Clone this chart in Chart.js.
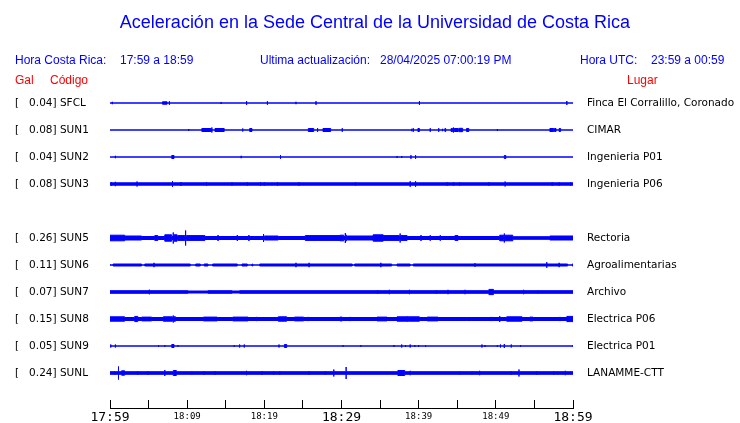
<!DOCTYPE html>
<html>
<head>
<meta charset="utf-8">
<script src="https://cdn.jsdelivr.net/npm/chart.js@4/dist/chart.umd.min.js"></script>
<style>
body { margin: 0; background: #fff; }
#wrap { position: relative; width: 740px; height: 423px; font-family: 'Liberation Sans', Arial, sans-serif; }
#wrap canvas { position: absolute; left: 0; top: 0; }
.t { position: absolute; white-space: pre; font-size: 12px; line-height: 14px; color: #0000ff; }
.red { color: #ff0000; }
#title { left: 0; width: 750px; top: 11px; text-align: center; font-size: 18px; line-height: 22px; }
</style>
</head>
<body>
<div id="wrap">
  <canvas id="acelChart" width="740" height="423"></canvas>
  <div class="t" id="title">Aceleración en la Sede Central de la Universidad de Costa Rica</div>
  <div class="t" style="left:15px; top:53px;">Hora Costa Rica:</div>
  <div class="t" style="left:120px; top:53px;">17:59 a 18:59</div>
  <div class="t" style="left:260px; top:53px;">Ultima actualización:</div>
  <div class="t" style="left:380px; top:53px;">28/04/2025 07:00:19 PM</div>
  <div class="t" style="left:580px; top:53px;">Hora UTC:</div>
  <div class="t" style="left:651px; top:53px;">23:59 a 00:59</div>
  <div class="t red" style="left:15px; top:73px;">Gal</div>
  <div class="t red" style="left:50px; top:73px;">Código</div>
  <div class="t red" style="left:627px; top:73px;">Lugar</div>
</div>
<script>
// estaciones (fila vacia = SUN4 sin datos)
const codes = ['SFCL', 'SUN1', 'SUN2', 'SUN3', '', 'SUN5', 'SUN6', 'SUN7', 'SUN8', 'SUN9', 'SUNL'];
const peakGal = ['0.04', '0.08', '0.04', '0.08', '', '0.26', '0.11', '0.07', '0.15', '0.05', '0.24'];
const places = ['Finca El Corralillo, Coronado', 'CIMAR', 'Ingenieria P01', 'Ingenieria P06', '',
  'Rectoria', 'Agroalimentarias', 'Archivo', 'Electrica P06', 'Electrica P01', 'LANAMME-CTT'];

// eje de tiempo: minutos desde 17:59
const tickMinutes = [0, 5, 10, 15, 20, 25, 30, 35, 40, 45, 50, 55, 60];
const tickLabels = ['17:59', '', '18:09', '', '18:19', '', '18:29', '', '18:39', '', '18:49', '', '18:59'];
const majorLabels = ['17:59', '18:29', '18:59'];

// amplitud base de cada traza
const baseAmp = [0, 0, 0, 1.2, 0, 1.5, 1.0, 1.3, 1.5, 0, 1.3];

// eventos: [minuto, amplitud] = pico, [inicio, fin, amplitud] = tramo
const sfclEvents = [[0.3, 1.2], [6.8, 7.4, 1.2], [7.7, 1.8], [14.4, 1], [17.7, 2], [20.4, 1.8],
  [24.1, 1.2], [26.7, 1.8], [40.1, 2], [59.2, 2]];
const sun1Events = [[10.2, 1], [11.9, 13.1, 1.5], [13.2, 2.5], [13.6, 14.8, 1.5], [17.2, 1.5],
  [18.1, 18.4, 1.5], [25.7, 26.4, 1.5], [26.9, 1.8], [27.6, 28.6, 1.5], [30.1, 1.8], [39.1, 1.2],
  [39.3, 1.8], [39.9, 40.1, 1.5], [41.5, 1.8], [42.6, 1.8], [43.1, 1.2], [43.4, 43.5, 1.5],
  [44.2, 44.4, 1.5], [44.5, 2.5], [44.6, 45.1, 1.5], [45.2, 45.7, 1.7], [46.2, 46.5, 1.5],
  [50.2, 1], [57.0, 57.5, 1.5], [57.6, 57.8, 1.5], [58.2, 58.4, 1.5]];
const sun2Events = [[0.7, 1.2], [8.0, 8.3, 1.5], [17.0, 1.2], [22.1, 1.8], [37.2, 1], [37.8, 1],
  [39.0, 1.8], [39.6, 1.8], [51.1, 51.3, 1.5]];
const sun3Events = [[0.2, 2], [0.7, 2.2], [3.5, 2.5], [8.1, 2.8], [9.2, 2], [12.5, 2], [15.8, 1.8],
  [17.8, 1.8], [19.5, 2], [20.0, 1.8], [21.7, 1.8], [24.5, 1.8], [31.8, 1.8], [38.9, 2.8], [39.6, 2.8],
  [43.7, 1.8], [44.5, 1.8], [45.3, 1.8], [49.1, 1.8], [51.2, 2.5], [57.3, 2], [58.2, 1.8], [59.7, 1.8]];
const sun4Events = [];
const sun5Events = [[0, 1.9, 2.8], [1.9, 4.1, 2.0], [5.8, 6.2, 2.4], [7.1, 8.0, 3.2], [8.2, 5.5],
  [8.3, 8.7, 3.2], [8.8, 9.7, 2.4], [9.8, 7.5], [9.9, 12.3, 2.4], [14.0, 3], [16.5, 3], [18.0, 3],
  [19.9, 4], [20.0, 21.8, 2.0], [25.3, 29.8, 2.4], [29.8, 30.3, 2.8], [30.5, 5], [30.6, 30.7, 2.8],
  [30.8, 34.1, 2.0], [34.1, 35.4, 3.2], [35.4, 37.5, 2.4], [37.6, 4.5], [37.7, 38.5, 2.4], [40.3, 3],
  [41.5, 2.8], [42.8, 2.8], [44.7, 45.1, 2.4], [50.5, 51.0, 2.8], [51.1, 4.5], [51.2, 52.2, 2.8],
  [52.2, 57.0, 1.3], [57.0, 60, 2.0]];
const sun6Events = [[0, 0.4, 0], [4.1, 4.5, 0], [5.7, 2.2], [10.4, 11.1, 0], [11.7, 12.2, 0],
  [12.7, 13.3, 0], [16.5, 17.1, 0], [17.8, 18.4, 0], [18.5, 19.4, 0], [24.1, 2.2], [25.8, 2.2],
  [31.4, 31.7, 0], [35.1, 2.2], [36.5, 37.2, 0], [38.9, 39.3, 0], [47.3, 1.8], [56.6, 2.8],
  [58.2, 2.2], [59.3, 59.9, 0]];
const sun7Events = [[5.1, 2.3], [10.1, 12.7, 1.0], [15.8, 16.8, 1.0], [34.7, 2], [36.2, 2.2],
  [38.8, 2.2], [42.3, 2], [43.8, 2.2], [46.0, 2.2], [49.1, 49.7, 2.6], [53.6, 2.2], [55.5, 1.8]];
const sun8Events = [[0, 1.9, 2.2], [3.2, 3.6, 2.6], [4.1, 5.4, 1.9], [6.9, 8.1, 2.2], [8.2, 3.5],
  [8.3, 8.5, 2.2], [12.1, 13.9, 1.9], [15.9, 17.9, 1.9], [19.0, 2.1], [21.8, 22.9, 2.2],
  [23.9, 25.1, 1.9], [25.7, 2.1], [29.8, 30.1, 1.9], [31.1, 2.1], [34.6, 35.9, 1.9],
  [37.2, 38.5, 2.2], [38.6, 3], [38.7, 40.1, 2.2], [41.1, 42.5, 1.9], [46.2, 1.8], [48.6, 1.8],
  [49.4, 2.1], [50.5, 3], [51.4, 53.4, 2.2], [54.4, 54.8, 1.9], [58.3, 2.1], [59.2, 60, 2.6]];
const sun9Events = [[0.1, 1.5], [0.7, 1.5], [6.3, 0.8], [7.1, 0.8], [8.0, 8.3, 1.5], [8.8, 0.8],
  [16.1, 0.8], [16.8, 1.5], [17.4, 1.5], [21.9, 1.5], [22.6, 22.9, 1.5], [30.2, 0.8], [32.5, 0.8],
  [36.8, 1], [37.8, 1.5], [38.3, 1], [38.9, 1.5], [39.5, 1], [40.0, 1], [40.9, 0.8], [48.2, 1.5],
  [48.6, 1], [50.2, 1], [50.6, 1.5], [51.1, 2], [52.0, 1.5], [53.2, 0.8], [60.0, 0.8]];
const sunlEvents = [[0.6, 2], [1.1, 6.5], [1.5, 1.9, 2.2], [3.6, 2], [4.9, 2], [7.1, 3],
  [8.2, 8.6, 2.5], [10.6, 1.8], [12.2, 2], [13.6, 2], [17.7, 2.2], [19.7, 2], [21.2, 2], [22.0, 2],
  [25.8, 2], [27.9, 2], [29.0, 3.5], [30.6, 6], [37.3, 38.2, 2.5], [38.9, 2.2], [45.3, 1.8],
  [46.9, 1.8], [47.9, 2.2], [52.0, 2], [53.0, 3.5], [55.3, 2], [57.5, 2], [58.0, 1.8], [59.0, 2.2]];

const stationEvents = [sfclEvents, sun1Events, sun2Events, sun3Events, sun4Events, sun5Events,
  sun6Events, sun7Events, sun8Events, sun9Events, sunlEvents];

const ROW = 27;      // separacion entre trazas (unidades de amplitud)
const BLUE = '#0000ff';

function envelope(i, sign) {
    const c = i * ROW;
    const base = baseAmp[i];
    const pts = [{ x: 0, y: c + sign * base }];
    stationEvents[i].slice().sort((a, b) => a[0] - b[0]).forEach(e => {
        if (e.length === 2) {
            pts.push({ x: e[0], y: c + sign * e[1] }, { x: e[0], y: c + sign * base });
        } else {
            pts.push({ x: e[0], y: c + sign * e[2] }, { x: e[1], y: c + sign * base });
        }
    });
    pts.push({ x: 60, y: c + sign * base });
    return pts;
}

const datasets = [];
codes.forEach((code, i) => {
    if (!code) return;
    const common = { stepped: true, borderColor: BLUE, backgroundColor: BLUE, borderWidth: 1, pointRadius: 0 };
    datasets.push(Object.assign({ label: code, data: envelope(i, -1), fill: false }, common));
    datasets.push(Object.assign({ label: code, data: envelope(i, 1), fill: '-1' }, common));
});

function rowTicks(scale) {
    scale.ticks = codes.map((c, i) => ({ value: i * ROW }));
}

const axisLine = {
    id: 'axisLine',
    afterDraw(chart) {
        const s = chart.scales.x;
        const ctx = chart.ctx;
        const y = Math.round(s.top + s.options.grid.tickLength) - 0.5;
        ctx.save();
        ctx.strokeStyle = '#000';
        ctx.lineWidth = 1;
        ctx.beginPath();
        ctx.moveTo(s.left, y);
        ctx.lineTo(s.right + 0.5, y);
        ctx.stroke();
        ctx.restore();
    }
};

const ctx = document.getElementById('acelChart').getContext('2d');
new Chart(ctx, {
    type: 'line',
    data: { datasets: datasets },
    plugins: [axisLine],
    options: {
        responsive: false,
        animation: false,
        layout: { padding: { left: 15, right: 0, top: 89.5, bottom: 0 } },
        plugins: { legend: { display: false }, tooltip: { enabled: false }, title: { display: false } },
        scales: {
            x: {
                type: 'linear', min: 0, max: 60,
                afterBuildTicks: s => { s.ticks = tickMinutes.map(v => ({ value: v })); },
                afterFit: s => { s.height = 23; },
                grid: { drawOnChartArea: false, tickLength: 9, color: '#000', tickColor: '#000' },
                border: { display: false },
                ticks: {
                    autoSkip: false, maxRotation: 0, padding: 2, color: '#000',
                    callback: (v, i) => tickLabels[i],
                    font: c => majorLabels.includes(tickLabels[c.index])
                        ? { family: 'DejaVu Sans Mono', size: 13, lineHeight: 1.05 }
                        : { family: 'DejaVu Sans Mono', size: 9, lineHeight: 1.3 }
                }
            },
            y: {
                type: 'linear', reverse: true, min: -13.5, max: 297,
                afterBuildTicks: rowTicks,
                afterFit: s => { s.width = 95; },
                grid: { display: false, drawTicks: false },
                border: { display: false },
                ticks: {
                    autoSkip: false, crossAlign: 'far', padding: 0, color: '#000',
                    font: { family: 'DejaVu Sans', size: 10.5 },
                    callback: (v, i) => codes[i] ? '[   ' + peakGal[i] + '] ' + codes[i] : ''
                }
            },
            y2: {
                type: 'linear', position: 'right', reverse: true, min: -13.5, max: 297,
                afterBuildTicks: rowTicks,
                afterFit: s => { s.width = 167; },
                grid: { display: false, drawTicks: false },
                border: { display: false },
                ticks: {
                    autoSkip: false, padding: 14, color: '#000',
                    font: { family: 'DejaVu Sans', size: 10.5 },
                    callback: (v, i) => places[i]
                }
            }
        }
    }
});
</script>
</body>
</html>
